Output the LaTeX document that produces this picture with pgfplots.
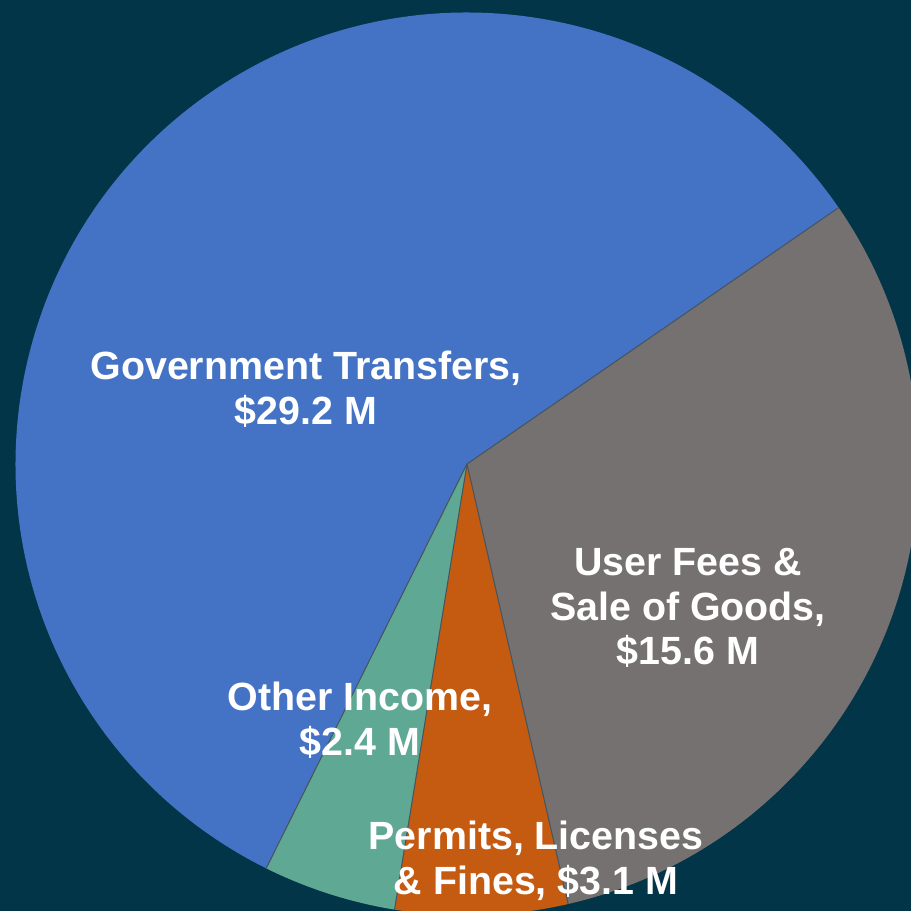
\documentclass[border=0pt]{standalone}
\usepackage{pgfplots}
\usepackage{pgfplotstable}
\pgfplotsset{compat=1.18}
\usepackage{fontspec}
\setmainfont{Liberation Sans}
\definecolor{bg}{HTML}{023547}
\definecolor{cgov}{HTML}{4472C4}
\definecolor{cuser}{HTML}{767171}
\definecolor{cperm}{HTML}{C55A11}
\definecolor{coth}{HTML}{5FA894}
\pgfplotstableread{
label value
Gov 29.2
Other 2.4
Permits 3.1
User 15.6
}\piedata
\pgfplotstablegetelem{0}{value}\of\piedata \let\vA\pgfplotsretval
\pgfplotstablegetelem{1}{value}\of\piedata \let\vB\pgfplotsretval
\pgfplotstablegetelem{2}{value}\of\piedata \let\vC\pgfplotsretval
\pgfplotstablegetelem{3}{value}\of\piedata \let\vD\pgfplotsretval
\pgfmathsetmacro{\tot}{\vA+\vB+\vC+\vD}
\pgfmathsetmacro{\aA}{34.6}
\pgfmathsetmacro{\aB}{\aA+360*\vA/\tot}
\pgfmathsetmacro{\aC}{\aB+360*\vB/\tot}
\pgfmathsetmacro{\aD}{\aC+360*\vC/\tot}
\pgfmathsetmacro{\aE}{\aD+360*\vD/\tot}
\begin{document}
\begin{tikzpicture}
\begin{axis}[
  width=9.11cm, height=9.11cm, scale only axis,
  xmin=0, xmax=911, ymin=0, ymax=911,
  axis lines=none, ticks=none, clip=true,
]
\fill[bg] (axis cs:0,0) rectangle (axis cs:911,911);
\def\R{4.515cm}
\fill[cgov] (axis cs:467,447) -- ++(\aA:\R) arc[start angle=\aA, end angle=\aB, radius=\R] -- cycle;
\fill[coth] (axis cs:467,447) -- ++(\aB:\R) arc[start angle=\aB, end angle=\aC, radius=\R] -- cycle;
\fill[cperm] (axis cs:467,447) -- ++(\aC:\R) arc[start angle=\aC, end angle=\aD, radius=\R] -- cycle;
\fill[cuser] (axis cs:467,447) -- ++(\aD:\R) arc[start angle=\aD, end angle=\aE, radius=\R] -- cycle;
\tikzset{edge/.style={draw={rgb,255:red,70;green,85;blue,95}, line width=0.3pt}}
\draw[edge] (axis cs:467,447) -- ++(\aA:\R);
\draw[edge] (axis cs:467,447) -- ++(\aB:\R);
\draw[edge] (axis cs:467,447) -- ++(\aC:\R);
\draw[edge] (axis cs:467,447) -- ++(\aD:\R);
\tikzset{lab/.style={text=white, align=center, inner sep=0pt, font=\fontsize{11.2}{12.75}\selectfont\bfseries}}
\node[lab] at (axis cs:306,521.5) {Government Transfers,\\\$29.2 M};
\node[lab] at (axis cs:688,303) {User Fees \&\\Sale of Goods,\\\$15.6 M};
\node[lab] at (axis cs:360,190.5) {Other Income,\\\$2.4 M};
\node[lab] at (axis cs:536,50.5) {Permits, Licenses\\\& Fines, \$3.1 M};
\end{axis}
\pgfresetboundingbox
\useasboundingbox (current axis.south west) rectangle (current axis.north east);
\end{tikzpicture}
\end{document}
